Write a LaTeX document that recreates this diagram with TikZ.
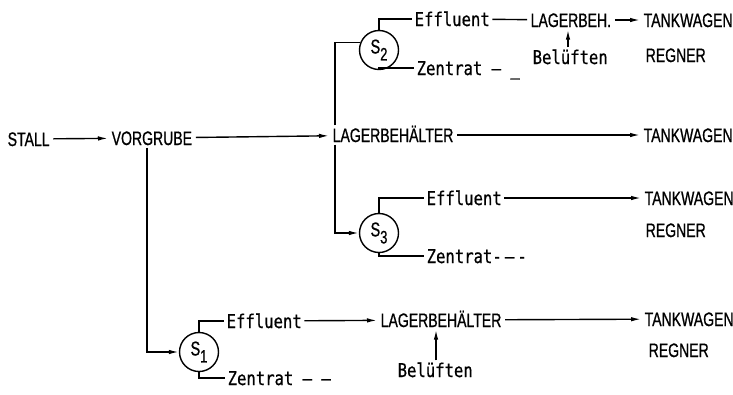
\documentclass[tikz,border=0pt]{standalone}
\usepackage{fontspec}
\usetikzlibrary{arrows.meta}
\newfontfamily\capf[FakeStretch=0.72,FakeBold=0.8]{Liberation Sans}
\newfontfamily\monof[FakeStretch=0.82,FakeBold=0.6]{DejaVu Sans Mono}
\newcommand{\sublbl}[1]{\fontsize{20}{20}\selectfont S\raisebox{-7pt}{\fontsize{18}{18}\selectfont #1}}
\begin{document}
\begin{tikzpicture}[x=1pt,y=-1pt, line width=1.4pt,
  lbl/.style={anchor=west, inner xsep=3pt, inner ysep=2pt, text height=14pt, text depth=0pt,
              font=\capf\fontsize{19.5}{20}\selectfont},
  mlbl/.style={lbl, inner xsep=2pt, font=\monof\fontsize{19}{20}\selectfont},
  sep/.style={circle, draw, minimum size=39pt, inner sep=0pt, font=\capf},
  arr/.style={-{Latex[length=10pt,width=4.5pt]}}]
\useasboundingbox (0,0) rectangle (733,394);

% main row
\node[lbl] (stall) at (4,139) {STALL};
\node[lbl] (vorg) at (108,138) {VORGRUBE};
\node[lbl] (lag) at (329,135) {LAGERBEHÄLTER};
\node[lbl] (tw0) at (640,135) {TANKWAGEN};
\draw[arr] (stall) -- (vorg);
\draw[arr] (vorg) -- (lag);
\draw[arr] (lag) -- (tw0);

% S2 branch
\coordinate (j2) at (335,43);
\node[sep] (s2) at (379,50) {\sublbl{2}};
\node[mlbl] (eff2) at (412,19) {Effluent};
\node[mlbl] (zen2) at (414,68) {Zentrat — \_};
\node[lbl] (lagb2) at (527,20) {LAGERBEH.};
\node[lbl] (tw2) at (640,20) {TANKWAGEN};
\node[lbl] (reg2) at (642,55) {REGNER};
\node[mlbl] (bel2) at (530,57) {Belüften};
\coordinate (a2) at (568,0);
\draw (lag.north -| j2) |- (s2.158);
\draw (s2.north) |- (eff2.west);
\draw (s2.south) |- (zen2.west);
\draw (eff2) -- (lagb2);
\draw[arr] (lagb2) -- (tw2);
\draw[arr] (bel2.north -| a2) -- (lagb2.south -| a2);

% S3 branch
\node[sep] (s3) at (379,233) {\sublbl{3}};
\node[mlbl] (eff3) at (424,198) {Effluent};
\node[mlbl] (zen3) at (424,256) {Zentrat-\,—\,-};
\node[lbl] (tw3) at (641,198) {TANKWAGEN};
\node[lbl] (reg3) at (642,230) {REGNER};
\draw[arr] (lag.south -| j2) |- (s3.west);
\draw (s3.north) |- (eff3.west);
\draw (s3.south) |- (zen3.west);
\draw[arr] (eff3) -- (tw3);

% S1 branch
\coordinate (j1) at (147,0);
\node[sep] (s1) at (199,352) {\sublbl{1}};
\node[mlbl] (eff1) at (224,321) {Effluent};
\node[mlbl] (zen1) at (225,378) {Zentrat — –};
\node[lbl] (lag1) at (377,320) {LAGERBEHÄLTER};
\node[lbl] (tw1) at (641,319) {TANKWAGEN};
\node[lbl] (reg1) at (645,350) {REGNER};
\node[mlbl] (bel1) at (395,370) {Belüften};
\coordinate (a1) at (436,0);
\draw[arr] (vorg.south -| j1) |- (s1.west);
\draw (s1.north) |- (eff1.west);
\draw (s1.south) |- (zen1.west);
\draw[arr] (eff1) -- (lag1);
\draw[arr] (lag1) -- (tw1);
\draw[arr] (bel1.north -| a1) -- (lag1.south -| a1);
\end{tikzpicture}
\end{document}
